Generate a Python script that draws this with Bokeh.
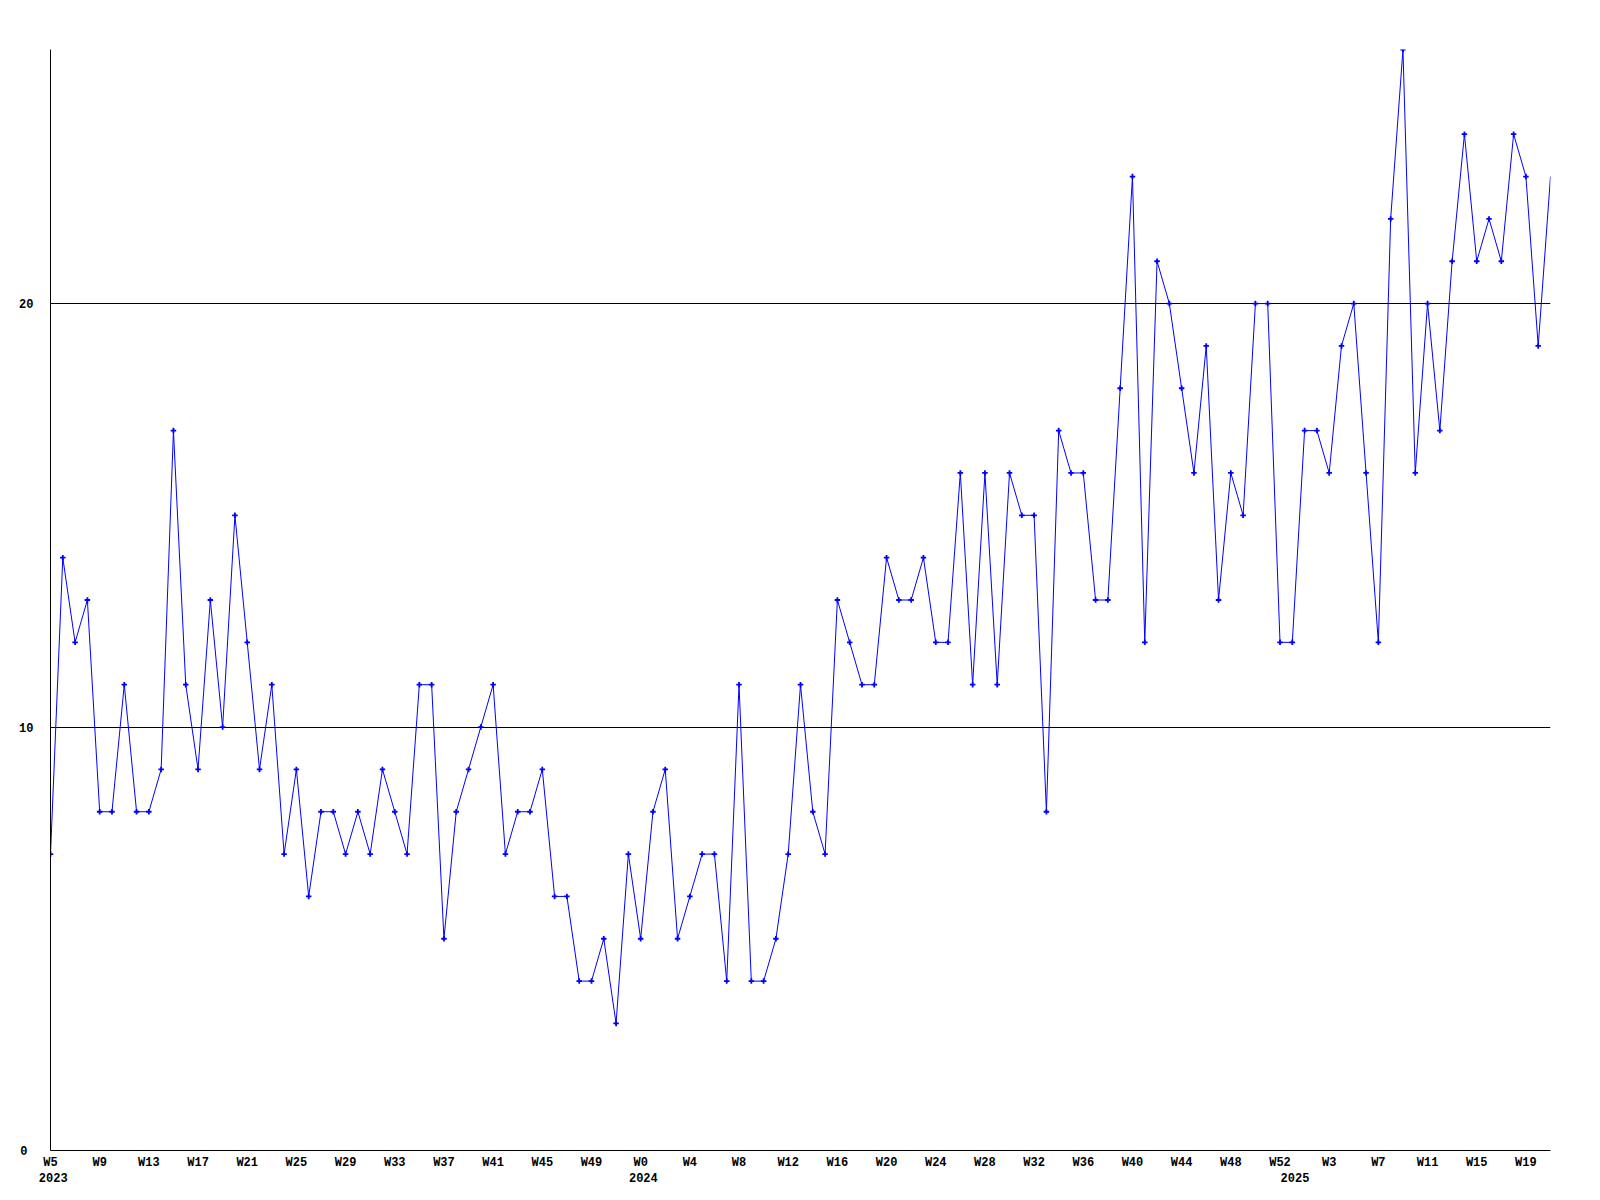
from bokeh.plotting import figure
from bokeh.models import Range1d, FixedTicker, LinearAxis
from bokeh.embed import file_html
from bokeh.resources import INLINE

# weekly values, 2023 W5 .. 2025 W21
values = [7, 14, 12, 13, 8, 8, 11, 8, 8, 9,
          17, 11, 9, 13, 10, 15, 12, 9, 11, 7,
          9, 6, 8, 8, 7, 8, 7, 9, 8, 7,
          11, 11, 5, 8, 9, 10, 11, 7, 8, 8,
          9, 6, 6, 4, 4, 5, 3, 7, 5, 8,
          9, 5, 6, 7, 7, 4, 11, 4, 4, 5,
          7, 11, 8, 7, 13, 12, 11, 11, 14, 13,
          13, 14, 12, 12, 16, 11, 16, 11, 16, 15,
          15, 8, 17, 16, 16, 13, 13, 18, 23, 12,
          21, 20, 18, 16, 19, 13, 16, 15, 20, 20,
          12, 12, 17, 17, 16, 19, 20, 16, 12, 22,
          26, 16, 20, 17, 21, 24, 21, 22, 21, 24,
          23, 19, 23]

week_tick_labels = ["W5", "W9", "W13", "W17", "W21", "W25", "W29", "W33", "W37",
                    "W41", "W45", "W49", "W0", "W4", "W8", "W12", "W16", "W20",
                    "W24", "W28", "W32", "W36", "W40", "W44", "W48", "W52", "W3",
                    "W7", "W11", "W15", "W19"]
week_tick_step = 4
year_labels = ["2023", "2024", "2025"]
year_positions = [0, 48, 101]
y_ticks = [0, 10, 20]
y_max = 26

n = len(values)
xs = list(range(n))

FONT = "Liberation Mono"
FW, FH = 1500, 1101
px_x = FW / (n - 1)

p = figure(frame_width=FW, frame_height=FH,
           x_range=Range1d(0, n - 1), y_range=Range1d(0, y_max),
           output_backend="svg", toolbar_location=None,
           x_axis_location=None, y_axis_location=None,
           min_border_left=50, min_border_top=49,
           min_border_right=42, min_border_bottom=42)
p.outline_line_color = None
p.background_fill_color = "white"
p.border_fill_color = "white"

# line and markers
p.line(xs, values, line_color="#0000ff", line_width=1)
p.scatter(xs[:-1], values[:-1], marker="cross", size=5.5, line_color="#0000ff",
          line_width=1.8)


def style(ax, standoff, line=True):
    ax.axis_line_color = "black" if line else None
    ax.axis_line_width = 1
    ax.major_tick_line_color = None
    ax.minor_tick_line_color = None
    ax.major_label_standoff = standoff
    ax.major_label_text_font = FONT
    ax.major_label_text_font_style = "bold"
    ax.major_label_text_font_size = "12px"
    ax.major_label_text_color = "black"


# x axis: week labels (inner), year labels (outer, slightly shifted right)
wk_ticks = [i * week_tick_step for i in range(len(week_tick_labels))]
xa = LinearAxis(ticker=FixedTicker(ticks=wk_ticks),
                major_label_overrides={t: l for t, l in zip(wk_ticks, week_tick_labels)})
style(xa, -1)
p.add_layout(xa, "below")

ys = -2.7 / px_x
p.extra_x_ranges = {"years": Range1d(ys, n - 1 + ys)}
ya_x = LinearAxis(x_range_name="years", ticker=FixedTicker(ticks=year_positions),
                  major_label_overrides={t: l for t, l in zip(year_positions, year_labels)})
style(ya_x, -6, line=False)
p.add_layout(ya_x, "below")

# y axis: 10 and 20 (inner), 0 (outer) so that all labels start at the same x
y_inner = [t for t in y_ticks if t != 0]
ya = LinearAxis(ticker=FixedTicker(ticks=y_inner),
                major_label_overrides={t: str(t) for t in y_inner})
style(ya, 11)
p.add_layout(ya, "left")
ya0 = LinearAxis(ticker=FixedTicker(ticks=[0]), major_label_overrides={0: "0"})
style(ya0, -17, line=False)
p.add_layout(ya0, "left")

p.ygrid.ticker = FixedTicker(ticks=y_ticks)
p.ygrid.grid_line_color = "black"
p.ygrid.grid_line_width = 1
p.ygrid.grid_line_alpha = 1.0
p.xgrid.visible = False

open("out.html", "w").write(file_html(p, INLINE))
